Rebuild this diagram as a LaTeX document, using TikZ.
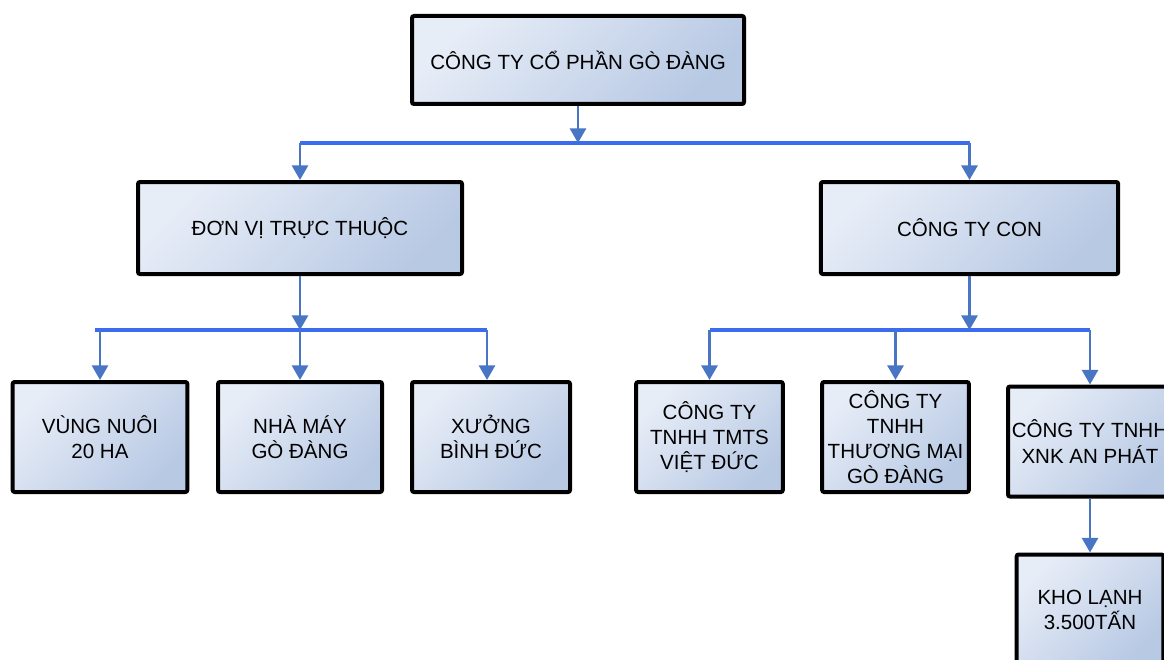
\documentclass[tikz,border=0pt]{standalone}
\usepackage{fontspec}
\setmainfont{Liberation Sans}
\usepackage{xcolor}
\usepackage{tikz}
\usetikzlibrary{positioning,arrows.meta}
\definecolor{boxhi}{RGB}{231,237,247}
\definecolor{boxlo}{RGB}{184,201,228}
\definecolor{linkblue}{RGB}{72,118,196}
\definecolor{busblue}{RGB}{59,108,240}

\begin{document}
\begin{tikzpicture}[x = 0.75pt, y = -0.75pt,
                    every node/.append style = {font = \fontsize{15.4}{18.8}\selectfont, align = center},
                    unit/.style = {draw = black, line width = 3pt, rounded corners = 1.5pt,
                                   top color = boxhi, bottom color = boxlo, shading angle = 45,
                                   inner xsep = 1pt, inner ysep = 0pt, minimum height = 82.5pt},
                    link/.style = {draw = linkblue, line width = 2.2pt, -{Triangle[width=12pt,length=11pt]}},
                    bus/.style = {draw = busblue, line width = 3.6pt}]
                \useasboundingbox[fill = white] (0,0) rectangle (1164,660);
                % levels 1 and 2
                \node[unit, minimum width = 249pt, minimum height = 66pt] (cty) at (578,60) {CÔNG TY CỔ PHẦN GÒ ĐÀNG};
                \node[unit, minimum width = 243pt, minimum height = 69pt] (dv) at (300,228) {ĐƠN VỊ TRỰC THUỘC};
                \node[unit, minimum width = 223pt, minimum height = 69pt] (con) at (969.5,228) {CÔNG TY CON};
                % level 3
                \node[unit, minimum width = 131pt] (vn) at (100,437) {VÙNG NUÔI\\20 HA};
                \node[unit, minimum width = 123pt] (nm) at (300,437) {NHÀ MÁY\\GÒ ĐÀNG};
                \node[unit, minimum width = 118.5pt] (xbd) at (491,437) {XƯỞNG\\BÌNH ĐỨC};
                \node[unit, minimum width = 110pt] (vd) at (709.5,437) {CÔNG TY\\TNHH TMTS\\VIỆT ĐỨC};
                \node[unit, minimum width = 110pt] (tm) at (895.5,437) {CÔNG TY\\TNHH\\THƯƠNG MẠI\\GÒ ĐÀNG};
                \node[unit, minimum width = 123pt] (ap) at (1090,441.5) {CÔNG TY TNHH\\XNK AN PHÁT};
                \node[unit, minimum width = 110pt] (kl) at (1090,609.5) {KHO LẠNH\\3.500TẤN};
                % bus bars
                \coordinate (b0) at (578,143);
                \coordinate (b1l) at (95,330);
                \coordinate (b1r) at (487,330);
                \coordinate (b2) at (969.5,330);
                \draw[bus] (dv.north |- b0) -- (con.north |- b0);
                \draw[bus] (b1l) -- (b1r);
                \draw[bus] (vd.north |- b2) -- (ap.north |- b2);
                % arrows
                \draw[link] (cty) -- (b0);
                \draw[link] (dv.north |- b0) -- (dv.north);
                \draw[link] (con.north |- b0) -- (con.north);
                \draw[link] (dv) -- (dv.south |- b1l);
                \draw[link] (vn.north |- b1l) -- (vn.north);
                \draw[link] (nm.north |- b1l) -- (nm.north);
                \draw[link] (b1r) -- (b1r |- xbd.north);
                \draw[link] (con) -- (b2);
                \draw[link] (vd.north |- b2) -- (vd.north);
                \draw[link] (tm.north |- b2) -- (tm.north);
                \draw[link] (ap.north |- b2) -- (ap.north);
                \draw[link] (ap) -- (kl);
                \end{tikzpicture}
\end{document}
